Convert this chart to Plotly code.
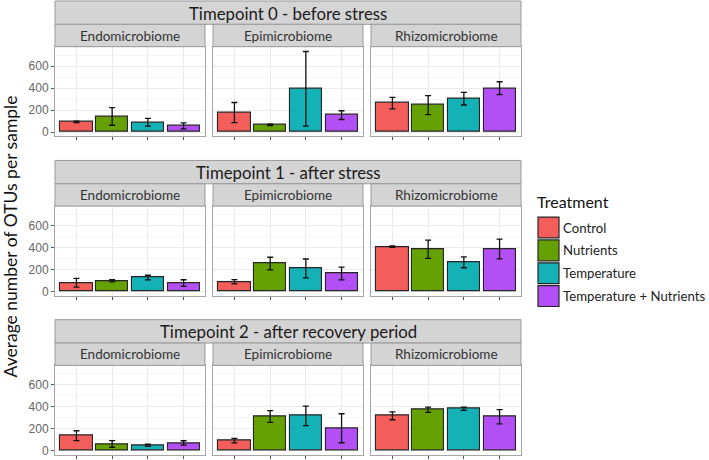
import plotly.graph_objects as go

treatments = ["Control", "Nutrients", "Temperature", "Temperature + Nutrients"]
colors = ["#F35E5A", "#66A103", "#14B1B6", "#B350F5"]
compartments = ["Endomicrobiome", "Epimicrobiome", "Rhizomicrobiome"]
timepoints = ["Timepoint 0 - before stress", "Timepoint 1 - after stress",
              "Timepoint 2 - after recovery period"]
y_ticks = [0, 200, 400, 600]

# mean OTUs per sample [Endo, Epi, Rhizo] x treatments
mean_tp0 = [[92, 142, 89, 56], [177, 65, 393, 154], [263, 245, 304, 399]]
err_tp0 = [[7, 80, 35, 28], [92, 6, 340, 40], [53, 87, 58, 59]]
mean_tp1 = [[80, 98, 127, 77], [89, 254, 210, 163], [408, 384, 266, 387]]
err_tp1 = [[40, 10, 21, 30], [20, 58, 86, 58], [7, 83, 50, 90]]
mean_tp2 = [[137, 62, 50, 71], [92, 312, 318, 205], [318, 374, 383, 309]]
err_tp2 = [[45, 30, 9, 20], [20, 53, 89, 132], [36, 24, 15, 65]]

means = [mean_tp0, mean_tp1, mean_tp2]
errs = [err_tp0, err_tp1, err_tp2]

W, H = 709, 460
FONT = "Lato"
panel_x = [(55, 205), (213, 363), (371, 521)]
row_tops = [1, 161.5, 321.8]
STRIP1, STRIP2, PLOT_H = 23.5, 22.5, 90

fig = go.Figure()
shapes = []
annotations = []
layout = {}

def px(x):
    return x / W

def py(y):
    return 1 - y / H

for r in range(3):
    top = row_tops[r]
    # timepoint strip
    shapes.append(dict(type="rect", xref="paper", yref="paper",
                       x0=px(panel_x[0][0]), x1=px(panel_x[2][1]),
                       y0=py(top + STRIP1), y1=py(top),
                       fillcolor="#D4D4D4", line=dict(color="#999999", width=1)))
    annotations.append(dict(text=timepoints[r], xref="paper", yref="paper",
                            x=px((panel_x[0][0] + panel_x[2][1]) / 2),
                            y=py(top + STRIP1 / 2 + 0.5), showarrow=False,
                            xanchor="center", yanchor="middle",
                            font=dict(family=FONT, size=16.8, color="#1a1a1a")))
    for c in range(3):
        idx = r * 3 + c + 1
        x0, x1 = panel_x[c]
        # compartment strip
        shapes.append(dict(type="rect", xref="paper", yref="paper",
                           x0=px(x0), x1=px(x1),
                           y0=py(top + STRIP1 + STRIP2), y1=py(top + STRIP1),
                           fillcolor="#D4D4D4", line=dict(color="#999999", width=1)))
        annotations.append(dict(text=compartments[c], xref="paper", yref="paper",
                                x=px((x0 + x1) / 2),
                                y=py(top + STRIP1 + STRIP2 / 2), showarrow=False,
                                xanchor="center", yanchor="middle",
                                font=dict(family=FONT, size=13.5, color="#333333")))
        ptop = top + STRIP1 + STRIP2
        pbot = ptop + PLOT_H
        xa = "xaxis" if idx == 1 else f"xaxis{idx}"
        ya = "yaxis" if idx == 1 else f"yaxis{idx}"
        xr = "x" if idx == 1 else f"x{idx}"
        yr = "y" if idx == 1 else f"y{idx}"
        layout[xa] = dict(domain=[px(x0), px(x1)], anchor=yr, range=[-0.6, 3.6],
                          tickvals=[0, 1, 2, 3], ticktext=["", "", "", ""],
                          showgrid=True, gridcolor="#EBEBEB", gridwidth=1,
                          zeroline=False, showline=True, linecolor="#A6A6A6",
                          linewidth=1, mirror=True, ticks="outside", ticklen=3,
                          tickcolor="#555555", fixedrange=True)
        layout[ya] = dict(domain=[py(pbot), py(ptop)], anchor=xr, range=[-37, 777],
                          tickvals=y_ticks, showgrid=True, gridcolor="#EBEBEB",
                          gridwidth=1, zeroline=False, showline=True,
                          linecolor="#A6A6A6", linewidth=1, mirror=True,
                          minor=dict(tickvals=[100, 300, 500, 700], showgrid=True,
                                     gridcolor="#F5F5F5", gridwidth=0.6, ticks=""),
                          showticklabels=(c == 0),
                          ticks="outside" if c == 0 else "", ticklen=3,
                          tickcolor="#555555",
                          tickfont=dict(family="Liberation Sans", size=12, color="#666666"),
                          fixedrange=True)
        fig.add_trace(go.Bar(
            x=[0, 1, 2, 3], y=means[r][c], width=0.9,
            marker=dict(color=colors, line=dict(color="#262626", width=1.1)),
            error_y=dict(type="data", array=errs[r][c], visible=True,
                         color="#111111", thickness=1.3, width=3),
            xaxis=xr, yaxis=yr, showlegend=False,
            hovertext=treatments, name=compartments[c]))

# y-axis title
annotations.append(dict(text="Average number of OTUs per sample", xref="paper",
                        yref="paper", x=px(10), y=py(238), textangle=-90,
                        showarrow=False, xanchor="center", yanchor="middle",
                        font=dict(family=FONT, size=17.5, color="#111111")))

# legend
annotations.append(dict(text="Treatment", xref="paper", yref="paper",
                        x=px(535), y=py(203), showarrow=False,
                        xanchor="left", yanchor="middle",
                        font=dict(family=FONT, size=16, color="#111111")))
key_top = 218
key_h = 23
for i, t in enumerate(treatments):
    y0 = key_top + i * key_h
    shapes.append(dict(type="rect", xref="paper", yref="paper",
                       x0=px(538), x1=px(559), y0=py(y0 + key_h - 1.5), y1=py(y0 + 0.5),
                       fillcolor=colors[i], line=dict(color="#262626", width=1.2)))
    annotations.append(dict(text=t, xref="paper", yref="paper",
                            x=px(561), y=py(y0 + key_h / 2 - 0.5), showarrow=False,
                            xanchor="left", yanchor="middle",
                            font=dict(family=FONT, size=13.2, color="#222222")))

fig.update_layout(width=W, height=H, margin=dict(l=0, r=0, t=0, b=0),
                  paper_bgcolor="white", plot_bgcolor="white",
                  shapes=shapes, annotations=annotations, bargap=0,
                  showlegend=False, **layout)

fig.write_html("out.html", config={"displayModeBar": False},
               post_script="document.body.style.margin='0';document.body.style.overflow='hidden';")
